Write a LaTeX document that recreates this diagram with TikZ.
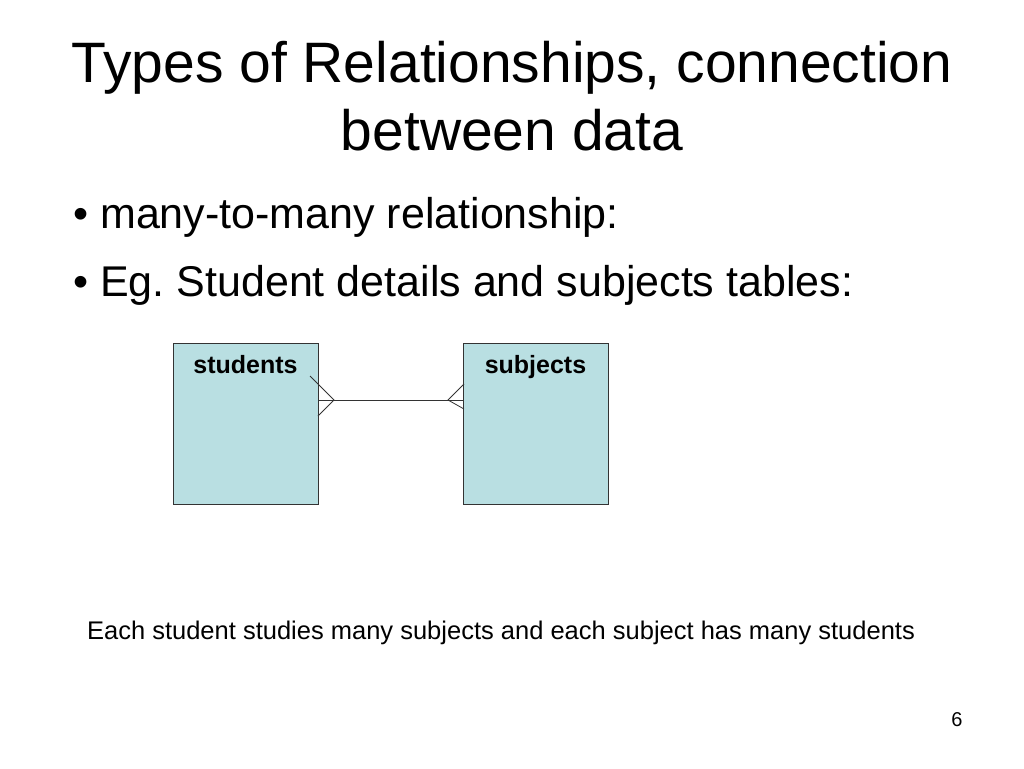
\documentclass[tikz,border=0pt]{standalone}
\usepackage{fontspec}
\setmainfont{Liberation Sans}
\begin{document}
\begin{tikzpicture}[x=1pt,y=-1pt,
  tbl/.style={draw=black!80,fill={rgb,255:red,185;green,223;blue,226},minimum width=145pt,minimum height=161pt,anchor=north west,inner sep=0pt},
  hdr/.style={font=\bfseries\fontsize{25}{28}\selectfont,anchor=base},
  big/.style={font=\fontsize{43}{48}\selectfont,anchor=base west,inner sep=0pt},
  ln/.style={draw=black!80,line width=0.8pt}]
\useasboundingbox (0,0) rectangle (1024,768);
\node[font=\fontsize{57}{68}\selectfont,anchor=base,inner sep=0pt] (title1) at (512,82) {Types of Relationships, connection};
\node[font=\fontsize{57}{68}\selectfont,anchor=base,inner sep=0pt] (title2) at (512,150) {between data};
\node[big] (d1) at (73,228) {•};
\node[big] (b1) at (100,228) {many-to-many relationship:};
\node[big] (d2) at (73,296) {•};
\node[big] (b2) at (100,296) {Eg.\ Student details and subjects tables:};
\node[tbl] (st) at (173,343) {};
\node[tbl] (su) at (463,343) {};
\node[hdr] (sth) at (245.5,373) {students};
\node[hdr] (suh) at (535.5,373) {subjects};
\coordinate (l0) at (310,376);
\coordinate (l1) at (334,400);
\coordinate (l2) at (318,416);
\coordinate (r0) at (464,384);
\coordinate (r1) at (448,400);
\coordinate (r2) at (464,409);
\draw[ln] (l0) -- (l1) -- (l2);
\draw[ln] (r0) -- (r1) -- (r2);
\draw[ln] (318,400) -- (463,400);
\node[font=\fontsize{25.5}{28}\selectfont,anchor=base,inner sep=0pt] (cap) at (501,639) {Each student studies many subjects and each subject has many students};
\node[font=\fontsize{20}{22}\selectfont,anchor=base,inner sep=0pt] (pg) at (957,726) {6};
\end{tikzpicture}
\end{document}
